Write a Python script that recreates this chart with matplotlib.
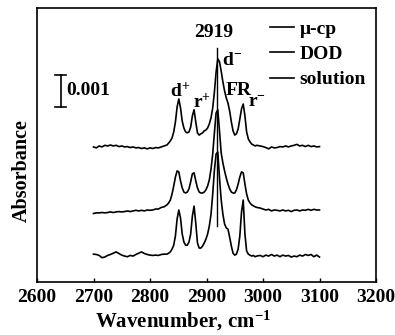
import numpy as np
import matplotlib.pyplot as plt

plt.rcParams['font.family'] = 'Liberation Serif'
plt.rcParams['font.weight'] = 'bold'
plt.rcParams['axes.labelweight'] = 'bold'
plt.rcParams['mathtext.fontset'] = 'custom'
plt.rcParams['mathtext.rm'] = 'Liberation Serif:bold'
plt.rcParams['mathtext.it'] = 'Liberation Serif:italic:bold'
plt.rcParams['mathtext.bf'] = 'Liberation Serif:bold'
plt.rcParams['mathtext.default'] = 'rm'

# wavenumber grid (cm-1), coarser on the flat baseline, finer across the CH bands
wn_left = [2700, 2705, 2710, 2715, 2720, 2725, 2730, 2735, 2740, 2745, 2750, 2755, 2760,
           2765, 2770, 2775, 2780, 2785, 2790, 2795, 2800, 2805, 2810, 2815, 2820, 2825]
wn_peak = [2830, 2833, 2836, 2839, 2842, 2845, 2848, 2851, 2854, 2857, 2860, 2863, 2866, 2869,
           2872, 2875, 2878, 2881, 2884, 2887, 2890, 2893, 2896, 2899, 2902, 2905, 2908, 2911,
           2914, 2917, 2920, 2923, 2926, 2929, 2932, 2935, 2938, 2941, 2944, 2947, 2950, 2953,
           2956, 2959, 2962, 2965, 2968, 2971, 2974, 2977, 2980, 2983, 2986, 2989]
wn_right = [2995, 3000, 3005, 3010, 3015, 3020, 3025, 3030, 3035, 3040, 3045, 3050, 3055,
            3060, 3065, 3070, 3075, 3080, 3085, 3090, 3095, 3100]
wavenumber = np.array(wn_left + wn_peak + wn_right)

# absorbance in units of 1e-5, relative to each trace's own baseline
mu_cp = ([-3, -6, 0, -3, 2, 0, 3, 0, 2, -2, 0, -3, -2, -5, -3, -6, -5, -8, -6, -9, -6, -8, -5, -6, -3, 0]
         + [3, 9, 16, 25, 44, 75, 122, 147, 119, 78, 56, 44, 41, 44, 59, 94, 113, 75, 41, 34,
            38, 41, 47, 50, 56, 69, 88, 119, 169, 231, 272, 263, 234, 200, 172, 150, 134, 109, 75, 47,
            34, 38, 53, 84, 116, 131, 94, 44, 22, 13, 6, 3, 0, 2]
         + [0, -2, -5, -9, -3, -6, -5, -2, -3, 0, -3, 0, 2, 5, 0, 2, -2, 2, -2, 0, -3, -2])
dod = ([-8, -6, -6, -5, -6, -5, -3, -5, -3, -2, -3, -2, 0, -2, 0, 2, 0, 2, 0, 3, 2, 3, 6, 6, 11, 13]
       + [19, 25, 34, 53, 78, 106, 125, 122, 94, 72, 59, 56, 59, 69, 91, 116, 119, 94, 72, 59,
          56, 56, 59, 66, 78, 97, 131, 178, 244, 306, 316, 250, 181, 150, 125, 103, 84, 69, 59, 56,
          56, 66, 84, 106, 122, 119, 84, 53, 34, 25, 19, 16, 13, 11]
       + [9, 6, 3, 5, 0, 3, 2, 0, 3, 0, 2, -2, 2, 3, 0, 3, 2, 5, 2, 5, 3, 3])
solution = ([6, 5, 2, -5, -3, 2, 5, 9, 13, 8, 3, 0, -2, 2, 0, 5, 9, 13, 8, 5, 3, 2, 3, 2, 5, 6]
            + [6, 9, 13, 22, 34, 63, 116, 144, 119, 69, 44, 34, 34, 44, 69, 125, 156, 103, 41, 25,
               25, 31, 41, 53, 69, 94, 131, 194, 269, 319, 325, 244, 175, 131, 100, 88, 84, 59, 31, 9,
               3, 6, 22, 63, 138, 175, 69, 16, 6, 3, 0, 2, -2, 0]
            + [2, -2, 3, 0, 5, 0, 3, -2, 3, 0, 2, -3, 0, -2, 3, 0, 5, 2, 5, -2, 3, -3])

labels = ['\u03bc-cp', 'DOD', 'solution']
offsets = [425, 222, 81]

x_ticks = [2600, 2700, 2800, 2900, 3000, 3100, 3200]

peak_labels = ['d$^{+}$', 'r$^{+}$', 'd$^{-}$', 'FR', 'r$^{-}$']
peak_label_pos = [(2835, 578), (2876, 544), (2927, 678), (2933, 584), (2973, 547)]

fig = plt.figure(figsize=(3.95, 3.35), dpi=100)
ax = fig.add_axes([37 / 395, 53 / 335, 339 / 395, 274 / 335])

for series, off, lab in zip([mu_cp, dod, solution], offsets, labels):
    ax.plot(wavenumber, np.array(series) + off, color='black', lw=1.2, label=lab)

# marker line at the d- band maximum
ax.plot([2919, 2919], [175, 731], color='black', lw=1.0)
ax.text(2913, 766, '2919', ha='center', va='baseline', fontsize=14, fontweight='bold')

for txt, (x, y) in zip(peak_labels, peak_label_pos):
    ax.text(x, y, txt, ha='left', va='baseline', fontsize=14, fontweight='bold')

# 0.001 absorbance scale bar
ax.plot([2642, 2642], [548, 648], color='black', lw=1.2)
ax.plot([2632, 2652], [548, 548], color='black', lw=1.2)
ax.plot([2632, 2652], [648, 648], color='black', lw=1.2)
ax.text(2652, 598, '0.001', ha='left', va='center', fontsize=14, fontweight='bold')

ax.set_xlim(2600, 3200)
ax.set_ylim(0, 856)
ax.set_xticks(x_ticks, labels=[str(t) for t in x_ticks], fontsize=14, fontweight='bold')
ax.set_yticks([])
ax.tick_params(axis='x', direction='in', length=3, width=1, pad=5)
for s in ax.spines.values():
    s.set_linewidth(1.2)

ax.set_xlabel('Wavenumber, cm$^{-1}$', fontsize=15, fontweight='bold')
ax.xaxis.set_label_coords(0.43, -0.1)
ax.set_ylabel('Absorbance', fontsize=14.5, fontweight='bold')
ax.yaxis.set_label_coords(-0.015, 0.405)

ax.legend(loc='upper left', bbox_to_anchor=(0.684, 0.94), bbox_transform=fig.transFigure,
          frameon=False, handlelength=1.2, handletextpad=0.3,
          labelspacing=0.4, borderpad=0, borderaxespad=0,
          prop={'family': 'Liberation Serif', 'weight': 'bold', 'size': 14})

fig.savefig('out.png', dpi=100)
